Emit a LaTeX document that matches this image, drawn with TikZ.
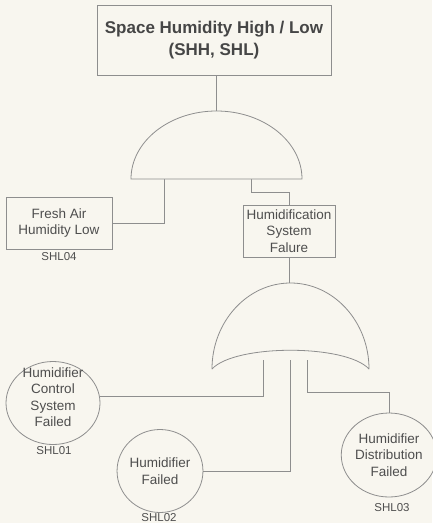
\documentclass[tikz,border=0pt]{standalone}
\usepackage{fontspec}
\setmainfont{Liberation Sans}
\usetikzlibrary{shapes.geometric}
\definecolor{paper}{HTML}{F8F6EF}
\definecolor{linegray}{HTML}{8E8E8E}
\definecolor{ink}{HTML}{4E4E4E}

\begin{document}
\begin{tikzpicture}[x=1pt,y=-1pt,
  wire/.style={draw=linegray,line width=0.8pt},
  txt/.style={text=ink,align=center,font=\fontsize{13.5}{16.5}\selectfont},
  box/.style={wire,rectangle,fill=paper,txt,inner sep=0pt},
  event/.style={wire,ellipse,fill=paper,txt,inner sep=0pt},
  tag/.style={text=ink,inner sep=0pt,font=\fontsize{11.5}{13}\selectfont},
  gate/.style={wire,fill=paper,line join=round}]

% page
\fill[paper] (0,0) rectangle (432,523);
\useasboundingbox (0,0) rectangle (432,523);

% top event
\node[box,minimum width=234pt,minimum height=70pt,
      font=\fontsize{17}{22}\selectfont\bfseries,text=ink!90!black]
  (top) at (214,40) {Space Humidity High / Low\\(SHH, SHL)};

% intermediate events
\node[box,minimum width=106pt,minimum height=52pt] (fresh) at (59,223) {Fresh Air\\Humidity Low};
\node[tag] (fresht) at (59,257) {SHL04};
\node[box,minimum width=92pt,minimum height=52pt] (hum) at (289,231) {Humidification\\System\\Falure};

% basic events
\node[event,minimum width=94pt,minimum height=83pt,
      label={[txt,yshift=6pt]center:{Humidifier\\Control\\System\\Failed}}] (c1) at (53,403) {};
\node[tag] (c1t) at (54,451) {SHL01};
\node[event,minimum width=82pt,minimum height=83pt] (c2) at (160,471) {Humidifier\\Failed};
\node[tag] (c2t) at (159,518) {SHL02};
\node[event,minimum width=83pt,minimum height=84pt] (c3) at (389,455) {Humidifier\\Distribution\\Failed};
\node[tag] (c3t) at (392,508) {SHL03};

% gate ports
\coordinate (g1a) at (216.5,111);
\coordinate (g1l) at (164,179);
\coordinate (g1r) at (251,179);
\coordinate (g2a) at (290.5,283);
\coordinate (g2l) at (263,360);
\coordinate (g2m) at (290,360);
\coordinate (g2r) at (307,360);

% connectors
\draw[wire] (top.south -| g1a) -- (g1a);
\draw[wire] (g1l) |- (fresh.east);
\draw[wire] (g1r) -- ++(0,13) -| (hum.north);
\draw[wire] (hum.south) -- (hum.south |- g2a);
\draw[wire] (g2l) |- (c1.8);
\draw[wire] (g2m) |- (c2.east);
\draw[wire] (g2r) -- ++(0,32) -| (c3.north);

% AND gate
\path[gate] (131,179) .. controls (131,141.4) and (169.5,111) .. (g1a)
  .. controls (263.5,111) and (302,141.4) .. (302,179) -- cycle;

% OR gate
\path[gate] (212,369) .. controls (212,321.7) and (247.3,283) .. (g2a)
  .. controls (333.7,283) and (369,321.7) .. (369,369)
  .. controls (346,344) and (235,344) .. cycle;
\end{tikzpicture}
\end{document}
